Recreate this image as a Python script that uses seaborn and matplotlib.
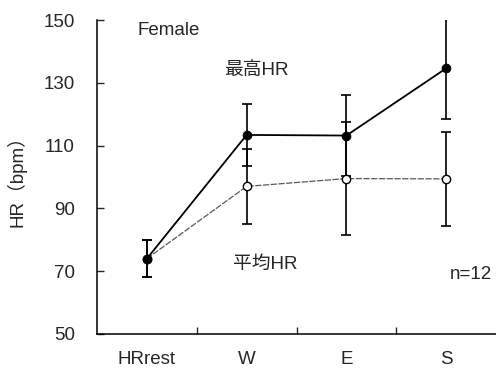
import numpy as np
import pandas as pd
import matplotlib
matplotlib.use("Agg")
import matplotlib.pyplot as plt
import seaborn as sns

# Heart rate by condition (female subjects)
categories = ["HRrest", "W", "E", "S"]
max_hr = [74.0, 113.4, 113.2, 134.6]
max_sd = [6.0, 10.0, 13.0, 16.0]
mean_hr = [74.0, 97.0, 99.5, 99.4]
mean_sd = [6.0, 12.0, 18.0, 15.0]
y_ticks = [50, 70, 90, 110, 130, 150]

sns.set_theme(style="ticks")
plt.rcParams["font.family"] = ["Liberation Sans", "Noto Sans CJK JP"]
plt.rcParams["axes.unicode_minus"] = False

FS = 13.5

pos = np.arange(len(categories))
df = pd.DataFrame({
    "pos": np.concatenate([pos, pos]),
    "hr": max_hr + mean_hr,
    "sd": max_sd + mean_sd,
    "series": ["最高HR"] * len(pos) + ["平均HR"] * len(pos),
})

fig = plt.figure(figsize=(4.96, 3.74), dpi=100)
ax = fig.add_axes([0.1956, 0.107, 0.8044, 0.8395])

# error bars first so markers sit on top
ax.errorbar(pos, mean_hr, yerr=mean_sd, fmt="none", ecolor="black",
            elinewidth=1.2, capsize=3.6, capthick=1.2, zorder=2)
ax.errorbar(pos, max_hr, yerr=max_sd, fmt="none", ecolor="black",
            elinewidth=1.2, capsize=3.6, capthick=1.2, zorder=2)

mean_df = df[df["series"] == "平均HR"]
max_df = df[df["series"] == "最高HR"]
sns.lineplot(data=mean_df, x="pos", y="hr", ax=ax, color="0.35", lw=0.9,
             linestyle=(0, (5, 1.2)), marker="o", markersize=6,
             markerfacecolor="white", markeredgecolor="black",
             markeredgewidth=1.0, zorder=3, sort=False)
sns.lineplot(data=max_df, x="pos", y="hr", ax=ax, color="black", lw=1.3,
             marker="o", markersize=6.2, markerfacecolor="black",
             markeredgecolor="black", zorder=4, sort=False)

ax.set_xlim(-0.5, len(categories) - 0.5)
ax.set_ylim(50, 150)
ax.set_yticks(y_ticks)
ax.set_xticks(pos)
ax.set_xticklabels(categories)
ax.set_xticks(pos[:-1] + 0.5, minor=True)
ax.tick_params(axis="x", which="major", length=0, pad=12, labelsize=FS)
ax.tick_params(axis="x", which="minor", direction="in", length=5, width=1)
ax.tick_params(axis="y", direction="in", length=5, width=1, pad=16,
               labelsize=FS)
ax.set_xlabel("")
ax.set_ylabel("HR（bpm）", fontsize=FS, labelpad=12)

for s in ["top", "right"]:
    ax.spines[s].set_visible(False)
for s in ["left", "bottom"]:
    ax.spines[s].set_linewidth(1.1)
    ax.spines[s].set_color("black")

ax.text(-0.09, 146.6, "Female", fontsize=FS, va="center", ha="left")
ax.text(0.77, 134.0, "最高HR", fontsize=FS, va="center", ha="left")
ax.text(0.86, 72.0, "平均HR", fontsize=FS, va="center", ha="left")
ax.text(3.04, 68.8, "n=12", fontsize=FS, va="center", ha="left")

fig.savefig("out.png", dpi=100)
